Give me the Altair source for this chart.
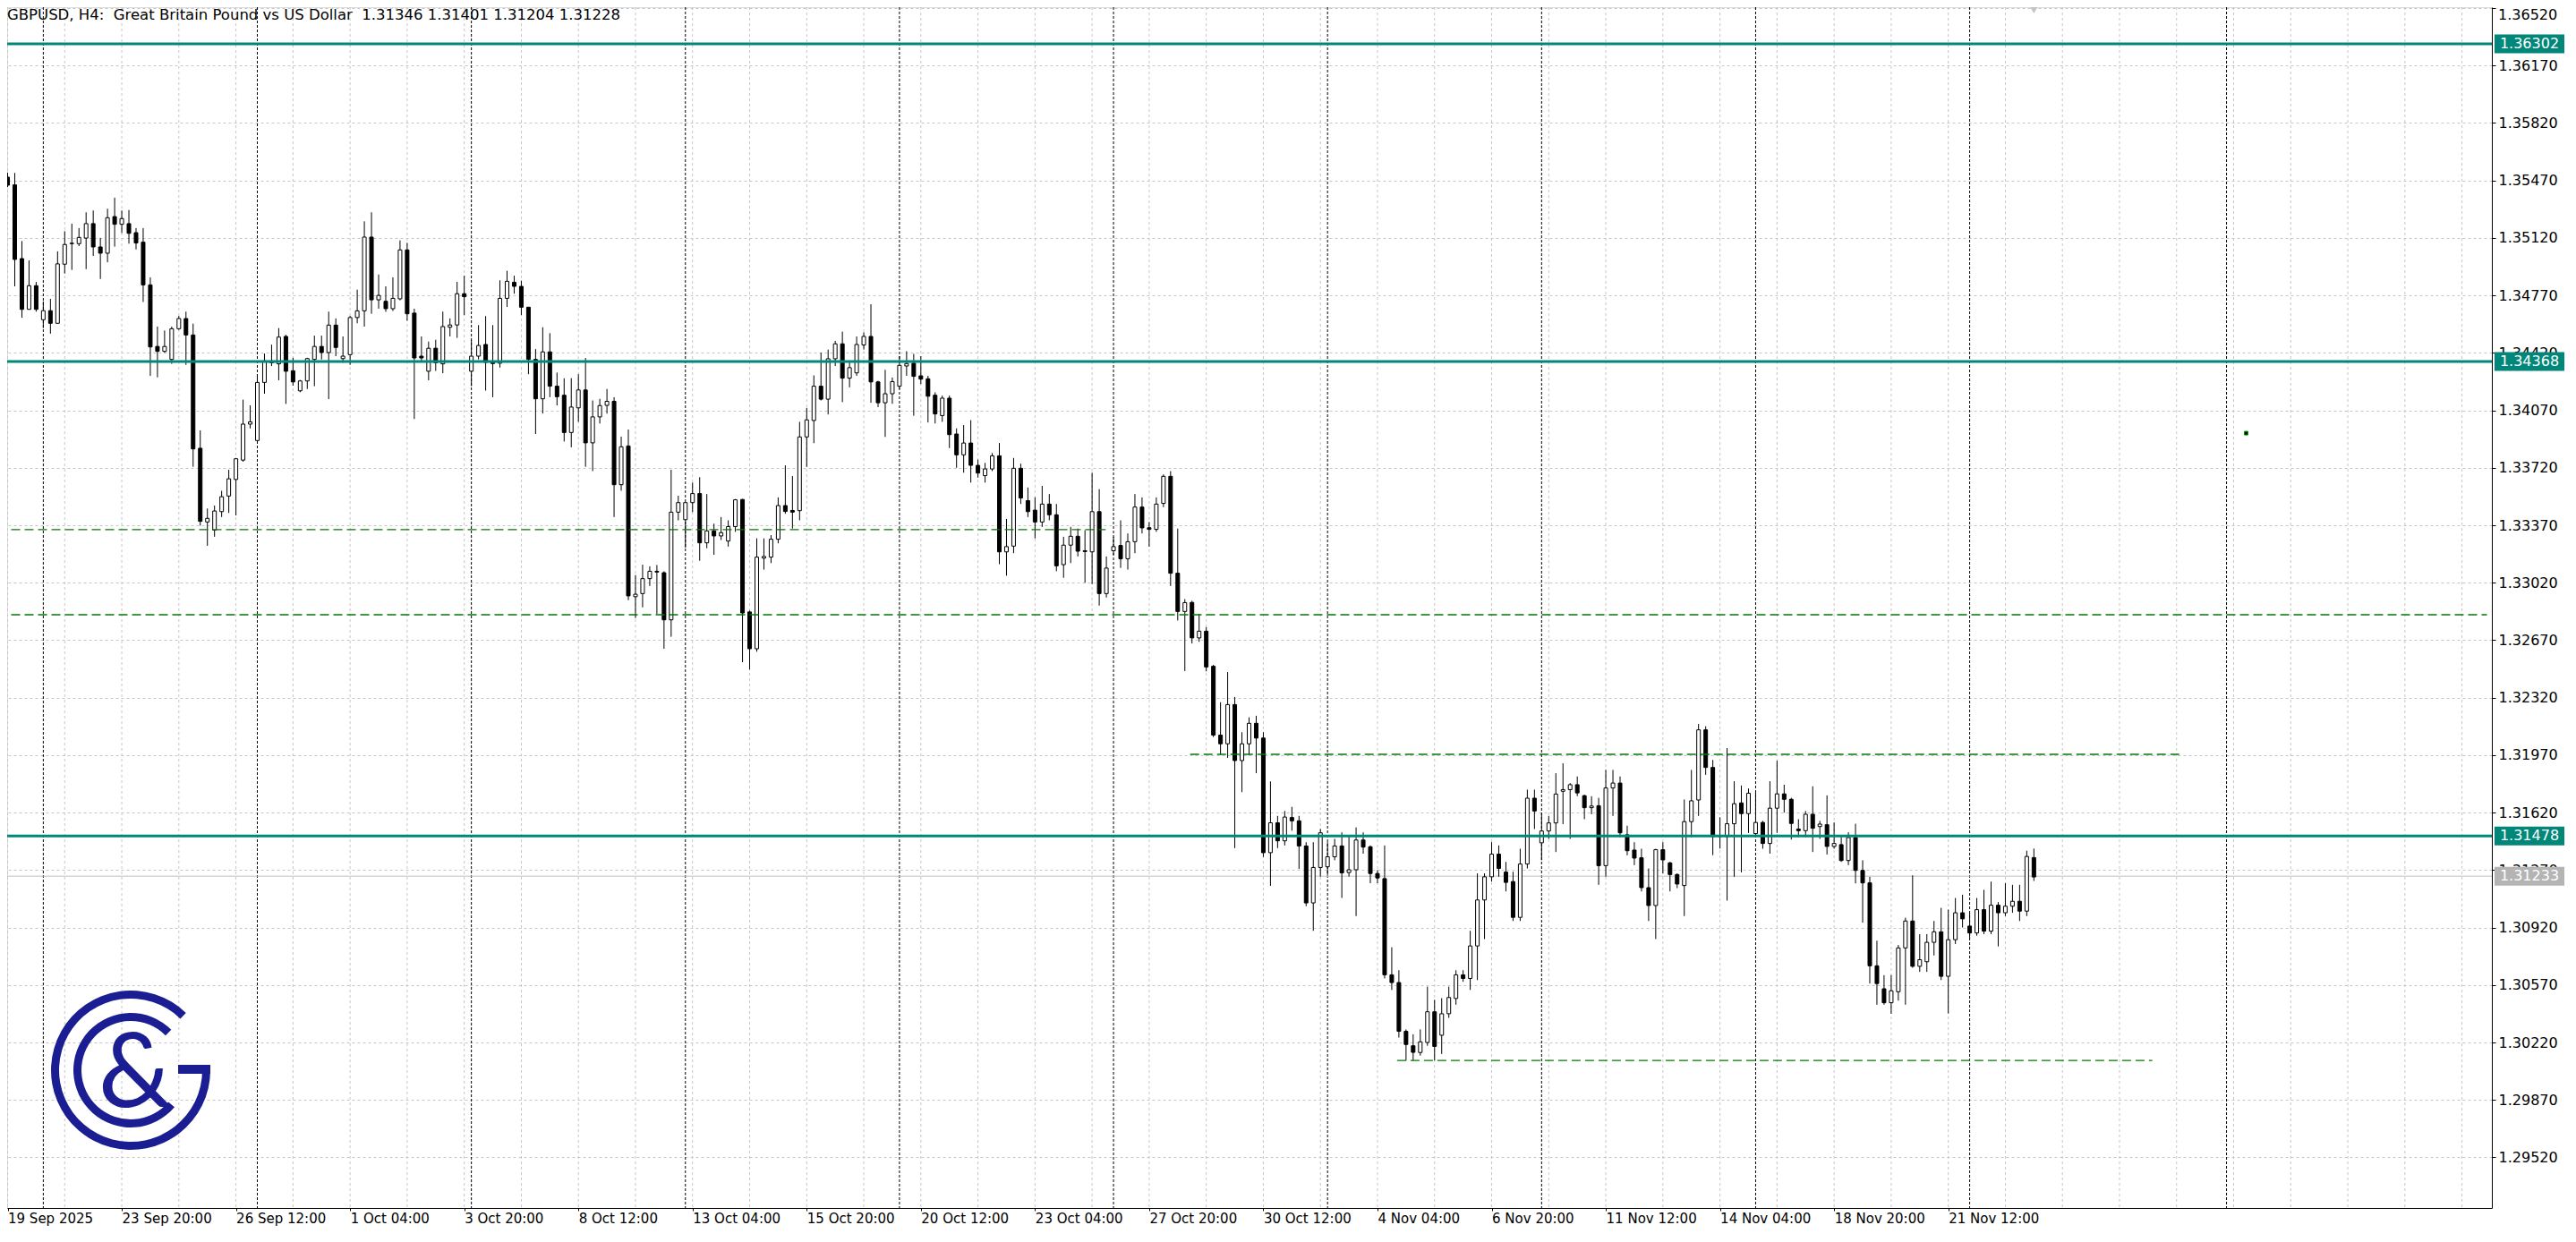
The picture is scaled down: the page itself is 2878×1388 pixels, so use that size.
import json
import altair as alt
import pandas as pd

# ---------------- data ----------------
OPEN = [
    1.35490, 1.35443, 1.34994, 1.34685, 1.34829, 1.34622, 1.34677, 1.34600, 1.34960, 1.35085,
    1.35085, 1.35119, 1.35207, 1.35065, 1.35027, 1.35250, 1.35203, 1.35207, 1.35152, 1.35094,
    1.34834, 1.34459, 1.34429, 1.34380, 1.34567, 1.34629, 1.34529, 1.33839, 1.33390, 1.33341,
    1.33453, 1.33548, 1.33649, 1.33767, 1.33986, 1.33886, 1.34240, 1.34371, 1.34353, 1.34520,
    1.34311, 1.34189, 1.34249, 1.34380, 1.34459, 1.34422, 1.34589, 1.34385, 1.34409, 1.34635,
    1.34676, 1.35125, 1.34743, 1.34734, 1.34689, 1.34749, 1.35047, 1.34662, 1.34400, 1.34308,
    1.34448, 1.34353, 1.34576, 1.34590, 1.34780, 1.34308, 1.34400, 1.34471, 1.34362, 1.34357,
    1.34752, 1.34850, 1.34825, 1.34698, 1.34380, 1.34140, 1.34426, 1.34217, 1.34162, 1.33935,
    1.34085, 1.34194, 1.33872, 1.34030, 1.34100, 1.34125, 1.33617, 1.33853, 1.32935, 1.32954,
    1.33045, 1.33090, 1.33081, 1.32794, 1.33450, 1.33404, 1.33508, 1.33563, 1.33263, 1.33336,
    1.33305, 1.33274, 1.33362, 1.33527, 1.32842, 1.32618, 1.33170, 1.33176, 1.33285, 1.33490,
    1.33460, 1.33459, 1.33908, 1.34008, 1.34217, 1.34138, 1.34384, 1.34475, 1.34266, 1.34298,
    1.34468, 1.34520, 1.34243, 1.34116, 1.34171, 1.34217, 1.34340, 1.34357, 1.34280, 1.34262,
    1.34162, 1.34038, 1.34144, 1.33926, 1.33799, 1.33871, 1.33735, 1.33672, 1.33713, 1.33793,
    1.33208, 1.33243, 1.33717, 1.33520, 1.33462, 1.33390, 1.33499, 1.33434, 1.33130, 1.33249,
    1.33303, 1.33215, 1.33208, 1.33453, 1.32954, 1.33215, 1.33247, 1.33166, 1.33270, 1.33481,
    1.33355, 1.33345, 1.33503, 1.33668, 1.33078, 1.32845, 1.32900, 1.32684, 1.32725, 1.32511,
    1.32092, 1.32039, 1.32278, 1.31937, 1.32039, 1.32164, 1.32074, 1.31376, 1.31558, 1.31448,
    1.31590, 1.31570, 1.31417, 1.31070, 1.31286, 1.31290, 1.31351, 1.31417, 1.31255, 1.31272,
    1.31453, 1.31412, 1.31249, 1.31218, 1.30632, 1.30585, 1.30288, 1.30200, 1.30159, 1.30220,
    1.30407, 1.30264, 1.30395, 1.30488, 1.30632, 1.30610, 1.30808, 1.31088, 1.31229, 1.31367,
    1.31258, 1.31200, 1.30982, 1.31307, 1.31708, 1.31436, 1.31508, 1.31557, 1.31750, 1.31760,
    1.31790, 1.31723, 1.31650, 1.31662, 1.31297, 1.31770, 1.31800, 1.31485, 1.31392, 1.31345,
    1.31163, 1.31054, 1.31394, 1.31314, 1.31243, 1.31176, 1.31565, 1.31697, 1.32124, 1.31895,
    1.31480, 1.31474, 1.31552, 1.31679, 1.31614, 1.31492, 1.31560, 1.31432, 1.31647, 1.31734,
    1.31701, 1.31520, 1.31510, 1.31610, 1.31535, 1.31546, 1.31414, 1.31425, 1.31328, 1.31468,
    1.31268, 1.31192, 1.30687, 1.30547, 1.30462, 1.30529, 1.30796, 1.30960, 1.30684, 1.30712,
    1.30830, 1.30894, 1.30623, 1.30846, 1.31010, 1.30929, 1.30887, 1.31029, 1.30898, 1.31056,
    1.31010, 1.31050, 1.31080, 1.31020, 1.31346,
]
HIGH = [
    1.35517, 1.35516, 1.35101, 1.34983, 1.34852, 1.34734, 1.34749, 1.35038, 1.35161, 1.35207,
    1.35180, 1.35276, 1.35287, 1.35120, 1.35298, 1.35365, 1.35287, 1.35290, 1.35180, 1.35180,
    1.34880, 1.34580, 1.34556, 1.34580, 1.34645, 1.34671, 1.34598, 1.33948, 1.33472, 1.33490,
    1.33580, 1.33708, 1.33780, 1.34135, 1.34100, 1.34289, 1.34416, 1.34470, 1.34571, 1.34530,
    1.34390, 1.34255, 1.34390, 1.34525, 1.34525, 1.34671, 1.34630, 1.34520, 1.34645, 1.34805,
    1.35221, 1.35276, 1.34897, 1.34825, 1.34880, 1.35105, 1.35090, 1.34689, 1.34520, 1.34489,
    1.34500, 1.34671, 1.34630, 1.34852, 1.34890, 1.34498, 1.34589, 1.34644, 1.34589, 1.34862,
    1.34920, 1.34890, 1.34860, 1.34700, 1.34443, 1.34576, 1.34540, 1.34300, 1.34265, 1.34266,
    1.34290, 1.34389, 1.34130, 1.34140, 1.34200, 1.34150, 1.33910, 1.33953, 1.33067, 1.33130,
    1.33120, 1.33128, 1.33090, 1.33708, 1.33550, 1.33508, 1.33630, 1.33663, 1.33560, 1.33380,
    1.33420, 1.33400, 1.33530, 1.33530, 1.32850, 1.33290, 1.33290, 1.33310, 1.33540, 1.33735,
    1.33670, 1.34000, 1.34085, 1.34283, 1.34422, 1.34440, 1.34493, 1.34549, 1.34370, 1.34520,
    1.34545, 1.34716, 1.34250, 1.34317, 1.34270, 1.34400, 1.34430, 1.34414, 1.34400, 1.34280,
    1.34180, 1.34160, 1.34160, 1.33960, 1.33980, 1.34010, 1.33770, 1.33750, 1.33810, 1.33871,
    1.33409, 1.33780, 1.33745, 1.33600, 1.33540, 1.33610, 1.33560, 1.33500, 1.33300, 1.33360,
    1.33350, 1.33340, 1.33690, 1.33590, 1.33180, 1.33300, 1.33400, 1.33320, 1.33560, 1.33540,
    1.33390, 1.33540, 1.33680, 1.33700, 1.33350, 1.32920, 1.32910, 1.32830, 1.32750, 1.32520,
    1.32292, 1.32476, 1.32324, 1.32110, 1.32200, 1.32210, 1.32110, 1.31810, 1.31600, 1.31630,
    1.31655, 1.31600, 1.31440, 1.31440, 1.31520, 1.31440, 1.31460, 1.31500, 1.31480, 1.31530,
    1.31500, 1.31420, 1.31270, 1.31420, 1.30800, 1.30660, 1.30300, 1.30270, 1.30300, 1.30560,
    1.30480, 1.30490, 1.30560, 1.30660, 1.30660, 1.30900, 1.31250, 1.31250, 1.31440, 1.31420,
    1.31320, 1.31260, 1.31400, 1.31760, 1.31760, 1.31620, 1.31600, 1.31860, 1.31920, 1.31800,
    1.31840, 1.31730, 1.31720, 1.31710, 1.31880, 1.31880, 1.31840, 1.31540, 1.31440, 1.31400,
    1.31280, 1.31400, 1.31440, 1.31320, 1.31250, 1.31700, 1.31880, 1.32160, 1.32146, 1.31941,
    1.31592, 1.32013, 1.31811, 1.31785, 1.31767, 1.31745, 1.31570, 1.31811, 1.31936, 1.31790,
    1.31710, 1.31580, 1.31630, 1.31780, 1.31570, 1.31725, 1.31560, 1.31480, 1.31500, 1.31552,
    1.31330, 1.31229, 1.30840, 1.30630, 1.30630, 1.30814, 1.30980, 1.31238, 1.30880, 1.30880,
    1.30960, 1.31040, 1.31029, 1.31100, 1.31120, 1.31010, 1.31100, 1.31150, 1.31200, 1.31075,
    1.31190, 1.31180, 1.31180, 1.31388, 1.31401,
]
LOW = [
    1.35430, 1.34825, 1.34634, 1.34685, 1.34671, 1.34571, 1.34537, 1.34600, 1.34903, 1.34925,
    1.35070, 1.34930, 1.35010, 1.34870, 1.34972, 1.35067, 1.35150, 1.35085, 1.35050, 1.34730,
    1.34280, 1.34271, 1.34420, 1.34353, 1.34560, 1.34347, 1.33726, 1.33368, 1.33245, 1.33300,
    1.33420, 1.33445, 1.33430, 1.33757, 1.33960, 1.33881, 1.34171, 1.34340, 1.34253, 1.34109,
    1.34220, 1.34180, 1.34200, 1.34217, 1.34380, 1.34138, 1.34400, 1.34360, 1.34347, 1.34600,
    1.34580, 1.34658, 1.34689, 1.34670, 1.34675, 1.34740, 1.34616, 1.34017, 1.34370, 1.34253,
    1.34310, 1.34296, 1.34520, 1.34511, 1.34650, 1.34217, 1.34380, 1.34190, 1.34150, 1.34330,
    1.34700, 1.34780, 1.34650, 1.34290, 1.33926, 1.34051, 1.34150, 1.34100, 1.33880, 1.33845,
    1.34000, 1.33726, 1.33700, 1.33990, 1.34050, 1.33420, 1.33580, 1.32914, 1.32805, 1.32870,
    1.33000, 1.32830, 1.32618, 1.32691, 1.33400, 1.33233, 1.33450, 1.33154, 1.33230, 1.33190,
    1.33280, 1.33240, 1.33330, 1.32536, 1.32491, 1.32600, 1.33100, 1.33140, 1.33260, 1.33440,
    1.33350, 1.33400, 1.33725, 1.33870, 1.34130, 1.34045, 1.34340, 1.34120, 1.34210, 1.34280,
    1.34440, 1.34116, 1.34090, 1.33908, 1.34110, 1.34200, 1.34280, 1.34037, 1.34230, 1.33996,
    1.33990, 1.34000, 1.33840, 1.33720, 1.33690, 1.33630, 1.33660, 1.33630, 1.33700, 1.33133,
    1.33063, 1.33200, 1.33500, 1.33420, 1.33290, 1.33360, 1.33400, 1.33090, 1.33050, 1.33140,
    1.33180, 1.33020, 1.33012, 1.32881, 1.32930, 1.33190, 1.33110, 1.33100, 1.33200, 1.33320,
    1.33240, 1.33330, 1.33480, 1.33000, 1.32790, 1.32482, 1.32650, 1.32660, 1.32480, 1.32080,
    1.31971, 1.31953, 1.31404, 1.31745, 1.31971, 1.31860, 1.31350, 1.31174, 1.31404, 1.31420,
    1.31510, 1.31277, 1.31050, 1.30900, 1.31230, 1.31240, 1.31330, 1.31100, 1.31230, 1.30990,
    1.31370, 1.31190, 1.31190, 1.30610, 1.30540, 1.30250, 1.30110, 1.30110, 1.30140, 1.30200,
    1.30110, 1.30150, 1.30370, 1.30450, 1.30590, 1.30540, 1.30600, 1.30850, 1.31200, 1.31230,
    1.31140, 1.30960, 1.30960, 1.31280, 1.31520, 1.31330, 1.31460, 1.31380, 1.31550, 1.31460,
    1.31720, 1.31580, 1.31610, 1.31180, 1.31230, 1.31600, 1.31470, 1.31360, 1.31300, 1.31140,
    1.30960, 1.30850, 1.31250, 1.31140, 1.31160, 1.30990, 1.31470, 1.31600, 1.31850, 1.31361,
    1.31401, 1.31084, 1.31229, 1.31256, 1.31496, 1.31480, 1.31400, 1.31370, 1.31496, 1.31620,
    1.31456, 1.31470, 1.31470, 1.31380, 1.31460, 1.31365, 1.31400, 1.31320, 1.31300, 1.31189,
    1.30950, 1.30579, 1.30450, 1.30450, 1.30395, 1.30475, 1.30450, 1.30675, 1.30650, 1.30650,
    1.30750, 1.30600, 1.30397, 1.30820, 1.30920, 1.30850, 1.30870, 1.30880, 1.30880, 1.30805,
    1.30990, 1.31010, 1.30960, 1.30990, 1.31204,
]
CLOSE = [
    1.35441, 1.34989, 1.34685, 1.34829, 1.34685, 1.34677, 1.34600, 1.34962, 1.35080, 1.35088,
    1.35123, 1.35207, 1.35065, 1.35027, 1.35243, 1.35203, 1.35238, 1.35148, 1.35089, 1.34834,
    1.34456, 1.34429, 1.34459, 1.34567, 1.34629, 1.34529, 1.33835, 1.33394, 1.33412, 1.33457,
    1.33544, 1.33653, 1.33775, 1.33986, 1.34000, 1.34240, 1.34371, 1.34360, 1.34516, 1.34308,
    1.34243, 1.34249, 1.34385, 1.34459, 1.34422, 1.34589, 1.34453, 1.34400, 1.34635, 1.34676,
    1.35125, 1.34743, 1.34770, 1.34689, 1.34752, 1.35047, 1.34658, 1.34389, 1.34389, 1.34448,
    1.34360, 1.34580, 1.34590, 1.34780, 1.34762, 1.34400, 1.34465, 1.34362, 1.34355, 1.34752,
    1.34856, 1.34825, 1.34698, 1.34380, 1.34140, 1.34426, 1.34217, 1.34153, 1.33935, 1.34090,
    1.34194, 1.33872, 1.34030, 1.34099, 1.34125, 1.33617, 1.33848, 1.32940, 1.32950, 1.33045,
    1.33090, 1.33085, 1.32794, 1.33450, 1.33508, 1.33508, 1.33563, 1.33263, 1.33336, 1.33305,
    1.33325, 1.33362, 1.33525, 1.32836, 1.32618, 1.33176, 1.33180, 1.33285, 1.33490, 1.33454,
    1.33450, 1.33908, 1.34012, 1.34217, 1.34138, 1.34384, 1.34475, 1.34266, 1.34330, 1.34471,
    1.34520, 1.34243, 1.34116, 1.34171, 1.34245, 1.34344, 1.34355, 1.34277, 1.34260, 1.34156,
    1.34048, 1.34144, 1.33922, 1.33799, 1.33871, 1.33735, 1.33688, 1.33713, 1.33793, 1.33208,
    1.33240, 1.33717, 1.33536, 1.33453, 1.33390, 1.33499, 1.33434, 1.33123, 1.33249, 1.33303,
    1.33212, 1.33210, 1.33453, 1.32954, 1.33109, 1.33240, 1.33166, 1.33270, 1.33481, 1.33354,
    1.33345, 1.33499, 1.33668, 1.33078, 1.32845, 1.32899, 1.32684, 1.32725, 1.32507, 1.32092,
    1.32039, 1.32278, 1.31937, 1.32039, 1.32164, 1.32074, 1.31376, 1.31558, 1.31448, 1.31593,
    1.31570, 1.31417, 1.31070, 1.31286, 1.31497, 1.31351, 1.31417, 1.31253, 1.31272, 1.31453,
    1.31410, 1.31249, 1.31222, 1.30632, 1.30585, 1.30288, 1.30208, 1.30160, 1.30224, 1.30407,
    1.30196, 1.30395, 1.30494, 1.30632, 1.30610, 1.30808, 1.31088, 1.31229, 1.31367, 1.31280,
    1.31195, 1.30982, 1.31307, 1.31708, 1.31630, 1.31508, 1.31557, 1.31733, 1.31760, 1.31790,
    1.31740, 1.31650, 1.31660, 1.31297, 1.31770, 1.31800, 1.31497, 1.31388, 1.31343, 1.31163,
    1.31054, 1.31394, 1.31332, 1.31243, 1.31185, 1.31565, 1.31692, 1.32124, 1.31895, 1.31474,
    1.31474, 1.31552, 1.31674, 1.31614, 1.31738, 1.31560, 1.31432, 1.31647, 1.31734, 1.31701,
    1.31554, 1.31510, 1.31610, 1.31525, 1.31550, 1.31414, 1.31432, 1.31328, 1.31468, 1.31268,
    1.31192, 1.30687, 1.30579, 1.30462, 1.30535, 1.30796, 1.30960, 1.30684, 1.30724, 1.30830,
    1.30894, 1.30623, 1.30846, 1.31010, 1.30973, 1.30887, 1.31029, 1.30898, 1.31056, 1.31010,
    1.31050, 1.31080, 1.31020, 1.31353, 1.31228,
]

X_LABEL_BARS = [0, 16, 32, 48, 64, 80, 96, 112, 128, 144, 160, 176, 192, 208, 224, 240, 256, 272]
X_LABELS = ["19 Sep 2025", "23 Sep 20:00", "26 Sep 12:00", "1 Oct 04:00", "3 Oct 20:00",
            "8 Oct 12:00", "13 Oct 04:00", "15 Oct 20:00", "20 Oct 12:00", "23 Oct 04:00",
            "27 Oct 20:00", "30 Oct 12:00", "4 Nov 04:00", "6 Nov 20:00", "11 Nov 12:00",
            "14 Nov 04:00", "18 Nov 20:00", "21 Nov 12:00"]
Y_TICKS = [1.29520, 1.29870, 1.30220, 1.30570, 1.30920, 1.31270, 1.31620, 1.31970, 1.32320,
           1.32670, 1.33020, 1.33370, 1.33720, 1.34070, 1.34420, 1.34770, 1.35120, 1.35470,
           1.35820, 1.36170, 1.36520]
TOP_LABEL = 1.36520
TEAL_LEVELS = [1.36302, 1.34368, 1.31478]
CURRENT_PRICE = 1.31233
GREEN_PRICE = [1.33343, 1.32825, 1.31975, 1.30111]
GREEN_START = [0.5, 0.5, 165.75, 194.75]
GREEN_END = [153.9, 347.5, 304.75, 300.6]
GRID_BARS = list(range(0, 348, 8))
SEPARATOR_BARS = [5, 35, 65, 95, 125, 155, 185, 215, 245, 275, 311]
LAST_BAR = 284
MARKER_BAR = [313.75]
MARKER_PRICE = [1.33931]
TITLE = "GBPUSD, H4:\u00a0 Great Britain Pound vs US Dollar\u00a0 1.31346 1.31401 1.31204 1.31228"

# ---------------- styling ----------------
FONT = "DejaVu Sans"
TEAL = "#00877a"
GREEN = "#067806"
GRID = "#c6c6c6"
LOGO = "#1b1d93"
W, H = 2776, 1342

df = pd.DataFrame({"i": list(range(len(OPEN))), "o": OPEN, "h": HIGH, "l": LOW, "c": CLOSE})
df["hi"] = df[["h", "o", "c"]].max(axis=1)
df["lo"] = df[["l", "o", "c"]].min(axis=1)

XS = alt.Scale(domain=[0.5625, 347.5625], nice=False, zero=False)
YS = alt.Scale(domain=[1.29212, 1.365254], nice=False, zero=False)

label_arr = json.dumps(X_LABELS)
XAXIS = alt.Axis(values=X_LABEL_BARS, labelExpr=f"{label_arr}[round(datum.value/16)]",
                 orient="bottom", grid=False, title=None, tickSize=3, labelPadding=1,
                 labelAlign="left", labelBaseline="top", labelFont=FONT, labelFontSize=15,
                 labelColor="black", domainColor="black", tickColor="black",
                 labelOverlap=False, labelFlush=False, labelBound=False)
YAXIS = alt.Axis(values=Y_TICKS, format=".5f", labelExpr="datum.value > 1.365 ? '' : datum.label",
                 orient="right", grid=True, gridColor=GRID, gridDash=[3, 3], title=None,
                 tickSize=4, labelPadding=3, labelFont=FONT, labelFontSize=16,
                 labelColor="black", domainColor="black", tickColor="black",
                 labelOverlap=False, labelFlush=False, labelBound=False)


def X(f):
    return alt.X(f, type="quantitative", scale=XS, axis=XAXIS)


def Y(f):
    return alt.Y(f, type="quantitative", scale=YS, axis=YAXIS)


vgrid = alt.Chart(pd.DataFrame({"i": GRID_BARS})).mark_rule(
    color=GRID, strokeDash=[3, 3], strokeWidth=1).encode(x=X("i"))

seps = alt.Chart(pd.DataFrame({"i": SEPARATOR_BARS})).mark_rule(
    color="black", strokeDash=[3, 2], strokeWidth=1).encode(x=X("i"))

cur_line = alt.Chart(pd.DataFrame({"p": [CURRENT_PRICE]})).mark_rule(
    color="#c0c0c0", strokeWidth=1).encode(y=Y("p"))

wicks = alt.Chart(df).mark_rule(color="black", strokeWidth=1, clip=True).encode(
    x=X("i"), y=Y("lo"), y2=alt.Y2("hi"))

bodies = alt.Chart(df).mark_bar(size=4, stroke="black", strokeWidth=1, clip=True).encode(
    x=X("i"), y=Y("o"), y2=alt.Y2("c"),
    fill=alt.condition("datum.c >= datum.o", alt.value("white"), alt.value("black")))

green = alt.Chart(pd.DataFrame({"p": GREEN_PRICE, "s": GREEN_START, "e": GREEN_END})).mark_rule(
    color=GREEN, strokeDash=[10, 5], strokeWidth=1.3).encode(x=X("s"), x2=alt.X2("e"), y=Y("p"))

teal = alt.Chart(pd.DataFrame({"p": TEAL_LEVELS})).mark_rule(
    color=TEAL, strokeWidth=3).encode(y=Y("p"))

title = alt.Chart(pd.DataFrame({"t": [TITLE]})).mark_text(
    align="left", baseline="middle", font=FONT, fontSize=16.5, color="black").encode(
    x=alt.value(0), y=alt.value(9), text="t:N")

# logo (C & G)
logo_df = pd.DataFrame({"k": [0]})
outer = alt.Chart(logo_df).mark_arc(radius=89, radius2=80, theta=1.5708, theta2=7.05,
                                    color=LOGO).encode(x=alt.value(138), y=alt.value(1188))
inner = alt.Chart(logo_df).mark_arc(radius=64, radius2=55, theta=2.27, theta2=7.07,
                                    color=LOGO).encode(x=alt.value(138), y=alt.value(1188))
bar = alt.Chart(logo_df).mark_rect(color=LOGO).encode(
    x=alt.value(191), x2=alt.value(227), y=alt.value(1182), y2=alt.value(1192))
amp = alt.Chart(pd.DataFrame({"t": ["&"]})).mark_text(
    font="Lato", fontSize=116, color=LOGO, align="center", baseline="alphabetic").encode(
    x=alt.value(143), y=alt.value(1229), text="t:N")

tri = alt.Chart(pd.DataFrame({"i": [LAST_BAR]})).mark_point(
    shape="triangle-down", filled=True, size=90, color="#c4c4c4", opacity=1).encode(
    x=X("i"), y=alt.value(3))

marker = alt.Chart(pd.DataFrame({"i": MARKER_BAR, "p": MARKER_PRICE})).mark_point(
    shape="square", filled=True, size=16, color="black", stroke="#00a000", strokeWidth=1,
    opacity=1).encode(x=X("i"), y=Y("p"))

lab_df = pd.DataFrame({"p": TEAL_LEVELS + [CURRENT_PRICE],
                       "t": [f"{v:.5f}" for v in TEAL_LEVELS + [CURRENT_PRICE]],
                       "kind": ["teal"] * len(TEAL_LEVELS) + ["cur"]})
boxes = alt.Chart(lab_df).mark_tick(orient="horizontal", size=78, thickness=21, opacity=1).encode(
    x=alt.value(2818), y=Y("p"),
    color=alt.condition("datum.kind == 'teal'", alt.value(TEAL), alt.value("#b4b4b4")))
box_text = alt.Chart(lab_df).mark_text(
    align="center", baseline="middle", font=FONT, fontSize=16, color="white").encode(
    x=alt.value(2818), y=Y("p"), text="t:N")

top_label = alt.Chart(pd.DataFrame({"p": [TOP_LABEL], "t": [f"{TOP_LABEL:.5f}"]})).mark_text(
    align="left", baseline="middle", font=FONT, fontSize=16, color="black", dy=8).encode(
    x=alt.value(W + 7), y=Y("p"), text="t:N")

chart = alt.layer(
    vgrid, seps, cur_line, wicks, bodies, green, teal, outer, inner, bar, amp, title,
    tri, marker, boxes, box_text, top_label,
).properties(
    width=W, height=H,
    autosize=alt.AutoSizeParams(type="none"),
    padding={"left": 0, "top": 0, "right": 84, "bottom": 20},
).configure_view(stroke="black", strokeWidth=1).configure(background="white")

chart.save("out.html", embed_options={"renderer": "svg", "actions": False})
